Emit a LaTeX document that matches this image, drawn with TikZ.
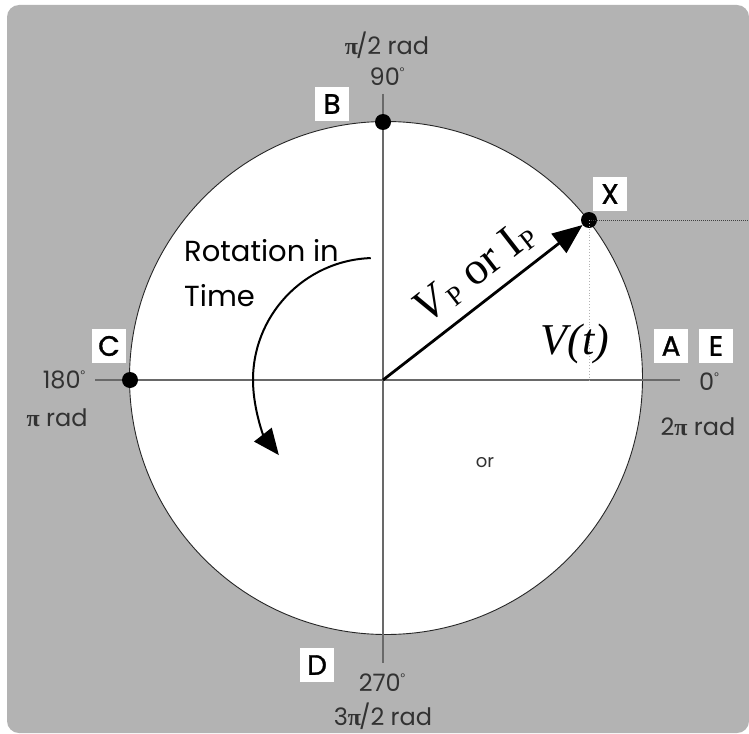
\documentclass[tikz,border=0pt]{standalone}
\usepackage{fontspec}
\setmainfont{Poppins}
\newfontfamily\seriff{Liberation Serif}
\newfontfamily\boxfont[FakeBold=1.2]{Poppins}
\usetikzlibrary{positioning,arrows.meta}
\definecolor{panel}{RGB}{179,179,179}
\definecolor{labeltxt}{RGB}{50,50,50}
\definecolor{axisline}{RGB}{105,105,105}
\newcommand{\degs}{\raisebox{0.42em}{\fontsize{11}{11}\selectfont °}}
\newcommand{\pis}{{\seriff\bfseries π}}

\begin{document}
\begin{tikzpicture}[
    x=1pt, y=-1pt,
    lettbox/.style={fill=white, minimum size=34pt, inner sep=0pt, font=\boxfont\fontsize{28}{28}\selectfont},
    angtext/.style={text=labeltxt, inner sep=0pt, font=\fontsize{24}{24}\selectfont},
    pointdot/.style={circle, fill=black, minimum size=16pt, inner sep=0pt},
    axis/.style={axisline, line width=1.3pt},
    >=Stealth
  ]
  \useasboundingbox (0,0) rectangle (749,733);
  \fill[panel, rounded corners=12pt] (7,5) rectangle (749,733);
  \filldraw[fill=white, draw=black!85, line width=0.9pt] (386,378) circle[radius=256.5];

  \coordinate (O) at (383,380);
  \coordinate (axL) at (95,380);
  \coordinate (axR) at (680,380);
  \coordinate (axT) at (383,94);
  \coordinate (axB) at (383,663);
  \draw[axis] (axL) -- (axR);
  \draw[axis] (axT) -- (axB);

  \node[pointdot] (B) at (383,122) {};
  \node[pointdot] (C) at (130,380) {};
  \node[pointdot] (X) at (589,220) {};
  \coordinate (xedge) at (749,220);
  \draw[densely dotted, line width=1pt, black!75] (X.center) -- (xedge);
  \draw[dotted, line width=0.9pt, black!30] (X.center) -- (X |- O);

  \node[lettbox] (lB) at (332,104) {B};
  \node[lettbox] (lC) at (109,346) {C};
  \node[lettbox] (lD) at (317,665) {D};
  \node[lettbox] (lX) at (610,194) {X};
  \node[lettbox] (lA) at (671,346) {A};
  \node[lettbox] (lE) at (716,346) {E};

  \node[angtext] (rad90) at (387,45) {\pis\kern-2pt/2 rad};
  \node[angtext] (deg90) at (387,77) {90\degs};
  \node[angtext] (deg180) at (64,380) {180\degs};
  \node[angtext] (rad180) at (57,418) {\pis{} rad};
  \node[angtext] (deg0) at (709,382) {0\degs};
  \node[angtext] (rad0) at (698,427) {2\pis{} rad};
  \node[angtext] (deg270) at (382,683) {270\degs};
  \node[angtext] (rad270) at (383,716) {3\pis\kern-2pt/2 rad};

  \node[anchor=north west, align=left, inner sep=0pt, font=\fontsize{29}{45}\selectfont] (rot) at (184,239) {Rotation in\\Time};
  \draw[line width=2pt, -{Triangle[length=26pt,width=22pt]}] (375,380) ++(-92:122) arc[start angle=-92, end angle=-218, radius=122];

  \draw[line width=2.8pt, -{Triangle[length=30pt,width=24pt]}] (O) -- node[sloped, pos=0.55, above=11pt, inner sep=0pt, font=\seriff\fontsize{46}{46}\selectfont] (vplabel) {\textit{V}\raisebox{-0.08em}{\fontsize{27}{27}\selectfont P} or I\raisebox{-0.08em}{\fontsize{27}{27}\selectfont P}} (X);

  \node[font=\seriff\itshape\fontsize{44}{44}\selectfont] (vt) at (575,344) {V(t)};
  \node[text=labeltxt, font=\fontsize{18}{18}\selectfont] (ortxt) at (485,463) {or};
\end{tikzpicture}
\end{document}
